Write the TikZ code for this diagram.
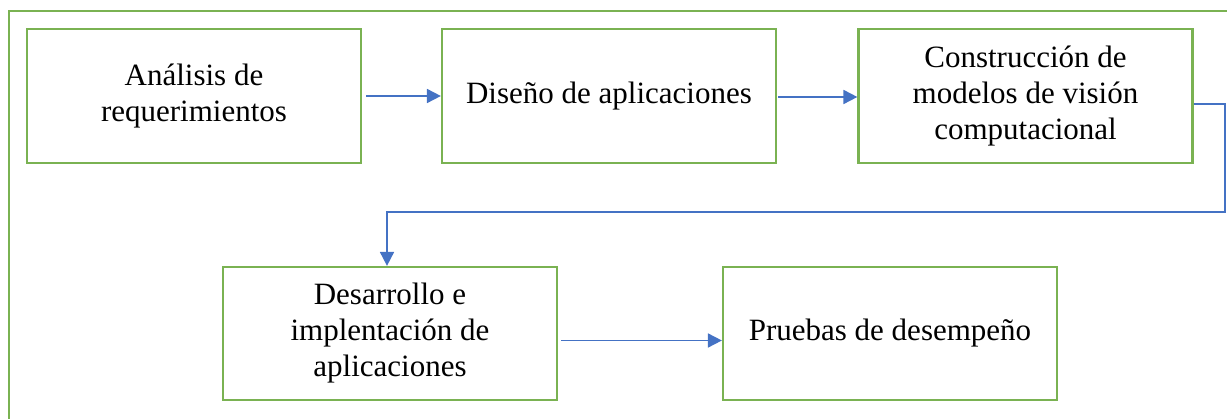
\documentclass[tikz,border=0pt]{standalone}
\usepackage{fontspec}
\setmainfont{Liberation Serif}
\usetikzlibrary{arrows.meta}
\definecolor{boxgreen}{RGB}{122,178,82}
\definecolor{arrowblue}{RGB}{68,114,196}
\tikzset{
  stepbox/.style={draw=boxgreen, line width=2.2pt, minimum width=334pt, minimum height=134pt,
    align=center, inner sep=0pt, font=\fontsize{31}{36}\selectfont},
  flow/.style={draw=arrowblue, line width=1.8pt, -{Triangle[length=14pt,width=14pt]}}
}
\begin{document}
\begin{tikzpicture}[x=1pt,y=-1pt]
\useasboundingbox (0,0) rectangle (1227,419);
\clip (0,0) rectangle (1227,419);
\draw[boxgreen, line width=2.2pt] (9,11) rectangle (1260,440);
\node[stepbox] (a) at (194,96) {Análisis de\\requerimientos};
\node[stepbox] (b) at (609,96) {Diseño de aplicaciones};
\node[stepbox] (c) at (1025.5,96) {Construcción de\\modelos de visión\\computacional};
\node[stepbox, minimum height=133pt] (d) at (390,333.5) {Desarrollo e\\implentación de\\aplicaciones};
\node[stepbox, minimum height=133pt] (e) at (890,333.5) {Pruebas de desempeño};
\coordinate (c1) at (1225,104);
\coordinate (c2) at (1225,212);
\coordinate (c3) at (387,212);
\draw[flow] ([xshift=4pt]a.east) -- (b.west);
\draw[flow] ([xshift=1pt,yshift=-1pt]b.east) -- ([yshift=-1pt]c.west);
\draw[flow] ([yshift=-8pt]c.east) -- (c1) -- (c2) -- (c3) -- (c3 |- d.north);
\draw[flow] ([xshift=3pt,yshift=-7pt]d.east) -- ([yshift=-7pt]e.west);
\end{tikzpicture}
\end{document}
